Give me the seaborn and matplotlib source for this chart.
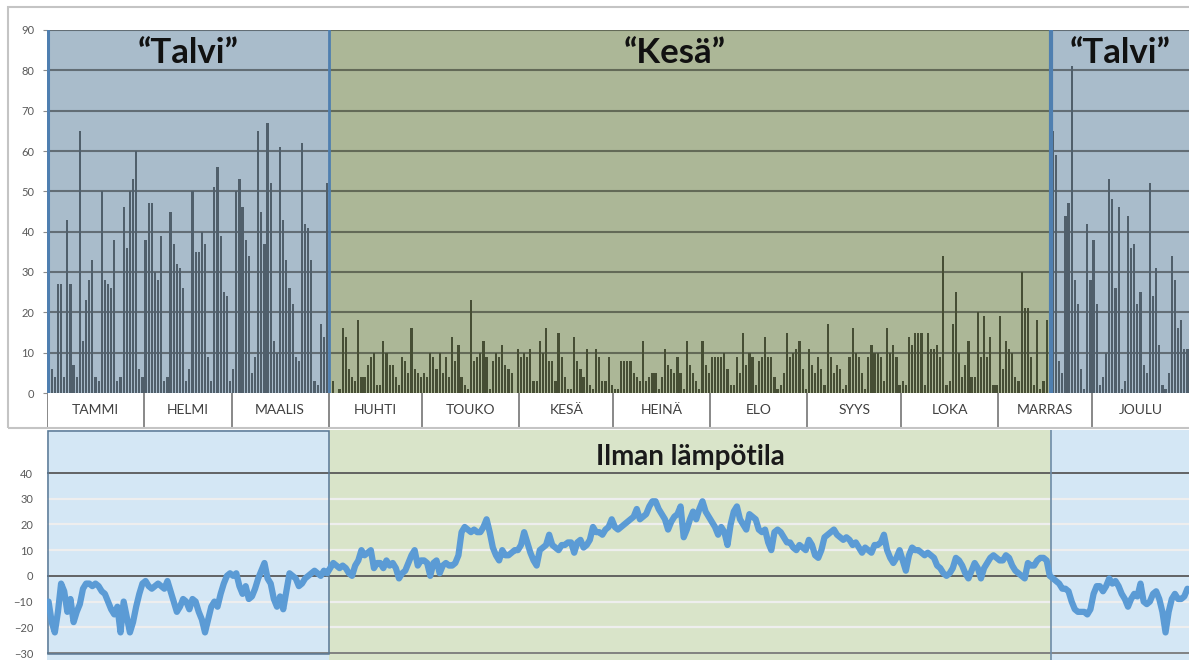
import numpy as np
import pandas as pd
import matplotlib
matplotlib.use("Agg")
import matplotlib.pyplot as plt
from matplotlib.patches import Rectangle
import seaborn as sns

# ---------------- data ----------------
month_names = ["TAMMI", "HELMI", "MAALIS", "HUHTI", "TOUKO", "KESÄ",
               "HEINÄ", "ELO", "SYYS", "LOKA", "MARRAS", "JOULU"]
month_days = [31, 28, 31, 30, 31, 30, 31, 31, 30, 31, 30, 31]

rain_jan = [7, 6, 4, 27, 27, 4, 43, 27, 7, 4, 65, 13, 23, 28, 33, 4, 3, 50, 28, 27, 26, 38, 3, 4, 46, 36, 50, 53, 60, 6, 4]
rain_feb = [38, 47, 47, 30, 28, 39, 3, 4, 45, 37, 32, 31, 26, 3, 6, 50, 35, 35, 40, 37, 9, 3, 51, 56, 39, 25, 24, 3]
rain_mar = [6, 50, 53, 46, 38, 34, 5, 9, 65, 45, 37, 67, 52, 13, 10, 61, 43, 33, 26, 22, 9, 8, 62, 42, 41, 33, 3, 2, 17, 14, 52]
rain_apr = [0, 3, 0, 1, 16, 14, 6, 4, 3, 18, 4, 4, 7, 9, 10, 2, 2, 13, 10, 7, 7, 4, 2, 9, 8, 5, 16, 6, 5, 4]
rain_may = [5, 4, 10, 9, 6, 10, 5, 9, 4, 14, 8, 12, 4, 2, 1, 23, 8, 9, 10, 13, 9, 1, 8, 10, 9, 12, 7, 6, 5, 0, 11]
rain_jun = [9, 10, 9, 11, 3, 3, 13, 10, 16, 8, 8, 3, 15, 9, 4, 1, 1, 14, 8, 6, 4, 11, 2, 1, 11, 9, 3, 3, 9, 2]
rain_jul = [1, 1, 8, 8, 8, 8, 5, 4, 3, 13, 3, 4, 5, 5, 1, 4, 11, 7, 6, 5, 9, 5, 1, 13, 7, 5, 3, 1, 13, 7, 5]
rain_aug = [9, 9, 9, 9, 10, 6, 2, 2, 9, 5, 15, 7, 10, 9, 2, 8, 9, 14, 9, 9, 4, 1, 2, 5, 15, 9, 10, 11, 13, 6, 1]
rain_sep = [11, 7, 5, 9, 6, 2, 17, 9, 5, 7, 6, 1, 2, 9, 16, 10, 9, 5, 1, 9, 12, 10, 10, 9, 3, 16, 10, 12, 9, 2]
rain_oct = [3, 2, 14, 12, 15, 15, 15, 2, 15, 11, 11, 12, 9, 34, 2, 3, 17, 25, 10, 4, 7, 13, 4, 4, 20, 9, 19, 9, 14, 2, 2]
rain_nov = [19, 6, 13, 11, 10, 4, 3, 30, 21, 21, 9, 2, 18, 1, 3, 18, 10, 65, 59, 8, 5, 44, 47, 81, 28, 22, 6, 1, 42, 28]
rain_dec = [38, 22, 2, 4, 10, 53, 48, 26, 46, 1, 3, 44, 36, 37, 22, 25, 7, 5, 52, 24, 31, 12, 2, 1, 5, 34, 28, 16, 18, 11, 11]

temp_jan = [-10, -18, -22, -14, -3, -6, -14, -9, -18, -14, -11, -5, -3, -3, -4, -3, -4, -6, -7, -10, -13, -15, -12, -22, -10, -16, -22, -18, -12, -7, -3]
temp_feb = [-2, -4, -5, -4, -3, -4, -5, -2, -6, -10, -14, -12, -9, -10, -13, -9, -10, -14, -17, -22, -17, -12, -10, -12, -7, -3, 0, 1]
temp_mar = [0, 1, -4, -7, -4, -9, -8, -5, -1, 2, 5, -1, -3, -9, -12, -8, -13, -6, 1, 0, -1, -4, -3, -1, 0, 1, 2, 1, 0, 2, 1]
temp_apr = [3, 5, 4, 3, 4, 3, 1, 0, 4, 6, 10, 8, 9, 10, 3, 5, 5, 3, 6, 4, 5, 3, -1, 1, 2, 5, 8, 10, 4, 6]
temp_may = [6, 5, 0, 5, 6, 1, 4, 5, 4, 4, 5, 8, 17, 19, 18, 17, 18, 17, 17, 19, 22, 17, 11, 8, 6, 10, 8, 8, 9, 10, 10]
temp_jun = [12, 17, 13, 9, 6, 4, 10, 11, 12, 16, 12, 11, 10, 12, 12, 13, 13, 9, 13, 14, 11, 12, 14, 19, 17, 17, 16, 18, 19, 22]
temp_jul = [19, 18, 19, 20, 21, 22, 23, 26, 22, 23, 24, 27, 29, 29, 26, 24, 22, 18, 21, 23, 24, 27, 15, 18, 22, 25, 22, 26, 29, 25, 23]
temp_aug = [21, 19, 16, 19, 17, 12, 20, 25, 27, 22, 20, 18, 24, 23, 22, 18, 17, 18, 13, 10, 17, 18, 17, 15, 13, 13, 11, 10, 12, 11, 10]
temp_sep = [14, 12, 8, 7, 10, 15, 16, 17, 18, 16, 15, 14, 15, 14, 12, 13, 11, 9, 11, 10, 9, 12, 12, 13, 16, 10, 7, 5, 7, 10]
temp_oct = [6, 2, 8, 11, 10, 10, 9, 8, 9, 8, 7, 4, 3, 1, 0, 1, 3, 7, 6, 4, 1, -1, 2, 5, 3, -1, 3, 5, 7, 8, 7]
temp_nov = [6, 6, 8, 7, 4, 2, 1, 0, -1, 5, 4, 4, 6, 7, 7, 6, 0, -1, -2, -3, -5, -5, -6, -10, -13, -14, -14, -14, -15, -13]
temp_dec = [-7, -4, -4, -6, -4, -1, -3, -2, -4, -7, -9, -12, -9, -7, -8, -3, -10, -11, -10, -7, -6, -9, -14, -22, -14, -9, -7, -9, -9, -8, -5]

season_labels = ["\u201cTalvi\u201d", "\u201cKesä\u201d", "\u201cTalvi\u201d"]
summer_start_day = 90     # 1 April
winter_start_day = 321    # mid November
temp_title = "Ilman lämpötila"

# ---------------- tables ----------------
rain = (rain_jan + rain_feb + rain_mar + rain_apr + rain_may + rain_jun +
        rain_jul + rain_aug + rain_sep + rain_oct + rain_nov + rain_dec)
temp = (temp_jan + temp_feb + temp_mar + temp_apr + temp_may + temp_jun +
        temp_jul + temp_aug + temp_sep + temp_oct + temp_nov + temp_dec)
ndays = len(rain)
day = np.arange(ndays)
season = np.where((day < summer_start_day) | (day >= winter_start_day), "talvi", "kesa")
df = pd.DataFrame({"pos": day + 0.5, "rain": rain, "temp": temp, "season": season})

month_edges = np.concatenate([[0], np.cumsum(month_days)])

# ---------------- style ----------------
sns.set_theme(style="white")
plt.rcParams["font.family"] = ["Lato", "DejaVu Sans"]

W, H = 1189, 662
fig = plt.figure(figsize=(W / 100, H / 100), dpi=100)
fig.patch.set_facecolor("white")

def fax(x0, y0, x1, y1):
    return fig.add_axes([x0 / W, 1 - y1 / H, (x1 - x0) / W, (y1 - y0) / H])

winter_bg = "#a9bccb"
summer_bg = "#acb797"
winter_bar = "#4b606f"
summer_bar = "#48532f"
edge_blue = "#4f7fb0"

# outer chart frame
fig.add_artist(Rectangle((8 / W, 1 - 428 / H), 1.2, (428 - 7) / H,
                         transform=fig.transFigure, fill=False,
                         edgecolor="#c4c4c4", lw=1.5))

# ---------------- top: precipitation bars ----------------
ax = fax(47, 30, 1189, 393)
ax.axvspan(0, summer_start_day, color=winter_bg, zorder=0, lw=0)
ax.axvspan(summer_start_day, winter_start_day, color=summer_bg, zorder=0, lw=0)
ax.axvspan(winter_start_day, ndays, color=winter_bg, zorder=0, lw=0)

sns.barplot(data=df, x="pos", y="rain", hue="season",
            palette={"talvi": winter_bar, "kesa": summer_bar},
            native_scale=True, dodge=False, width=0.7, errorbar=None,
            legend=False, linewidth=0, ax=ax, zorder=2)

for yv in range(10, 91, 10):
    ax.axhline(yv, color="black", alpha=0.42, lw=1.5, zorder=1)
ax.axvline(0.3, color=edge_blue, lw=2.2, zorder=3)
ax.axvline(summer_start_day, color=edge_blue, lw=2.0, zorder=3)
ax.axvline(winter_start_day, color=edge_blue, lw=3.0, zorder=3)

ax.set_xlim(0, ndays)
ax.set_ylim(0, 90)
ax.set_yticks(range(0, 91, 10))
ax.set_xticks([])
ax.set_xlabel("")
ax.set_ylabel("")
for s in ax.spines.values():
    s.set_visible(False)
ax.tick_params(axis="y", labelsize=8, colors="#595959", length=3,
               width=0.8, pad=6, left=True)
ax.tick_params(axis="y", color="#8c8c8c")

season_x = [(0 + summer_start_day) / 2, (summer_start_day + winter_start_day) / 2 - 5,
            (winter_start_day + ndays) / 2]
for sx, lab in zip(season_x, season_labels):
    ax.text(sx, 84.3, lab, ha="center", va="center", fontsize=25,
            fontweight="bold", color="#111111", zorder=5)

# ---------------- month label row ----------------
axl = fax(47, 393, 1189, 428)
axl.set_xlim(0, ndays)
axl.set_ylim(0, 1)
axl.set_facecolor("white")
for e in month_edges[:-1]:
    axl.axvline(e, color="#7f7f7f", lw=1.3)
for i, name in enumerate(month_names):
    axl.text((month_edges[i] + month_edges[i + 1]) / 2, 0.5, name,
             ha="center", va="center", fontsize=10, color="#404040")
axl.set_xticks([])
axl.set_yticks([])
for k, s in axl.spines.items():
    s.set_visible(k == "bottom")
axl.spines["bottom"].set_color("#a6a6a6")
axl.spines["bottom"].set_linewidth(1.2)

# ---------------- bottom: temperature line ----------------
axt = fax(47, 430, 1189, 660)
ppu = (653 - 473) / 70.0
y_top = 40 + 43 / ppu
y_bot = -30 - 7 / ppu
axt.axvspan(0, summer_start_day, color="#d4e7f5", zorder=0, lw=0)
axt.axvspan(summer_start_day, winter_start_day, color="#d9e4c9", zorder=0, lw=0)
axt.axvspan(winter_start_day, ndays, color="#d4e7f5", zorder=0, lw=0)

for yv in [-20, -10, 10, 20, 30]:
    axt.axhline(yv, color="#eeeeee", lw=1.6, zorder=1)
for yv in [40, 0]:
    axt.axhline(yv, color="#595959", lw=1.3, zorder=1)
axt.axhline(-30, color="#7a7a7a", lw=1.3, zorder=1)

axt.add_patch(Rectangle((0.3, -30.5), summer_start_day - 0.3, y_top + 30.5 - 0.2,
                        fill=False, edgecolor="#5a7894", lw=1.1, zorder=3))
axt.axvline(winter_start_day, color="#6e8ca8", lw=1.2, zorder=3)

sns.lineplot(data=df, x="pos", y="temp", color="#5b9bd5", lw=4.5,
             ax=axt, zorder=4)

axt.set_xlim(0, ndays)
axt.set_ylim(y_bot, y_top)
axt.set_yticks(range(-30, 41, 10))
axt.set_xticks([])
axt.set_xlabel("")
axt.set_ylabel("")
for s in axt.spines.values():
    s.set_visible(False)
axt.tick_params(axis="y", labelsize=8, colors="#595959", length=0, pad=10)

fig.text(690 / W, 1 - 457 / H, temp_title, ha="center", va="center",
         fontsize=20, fontweight="bold", color="#1a1a1a")

fig.savefig("out.png", dpi=100)
